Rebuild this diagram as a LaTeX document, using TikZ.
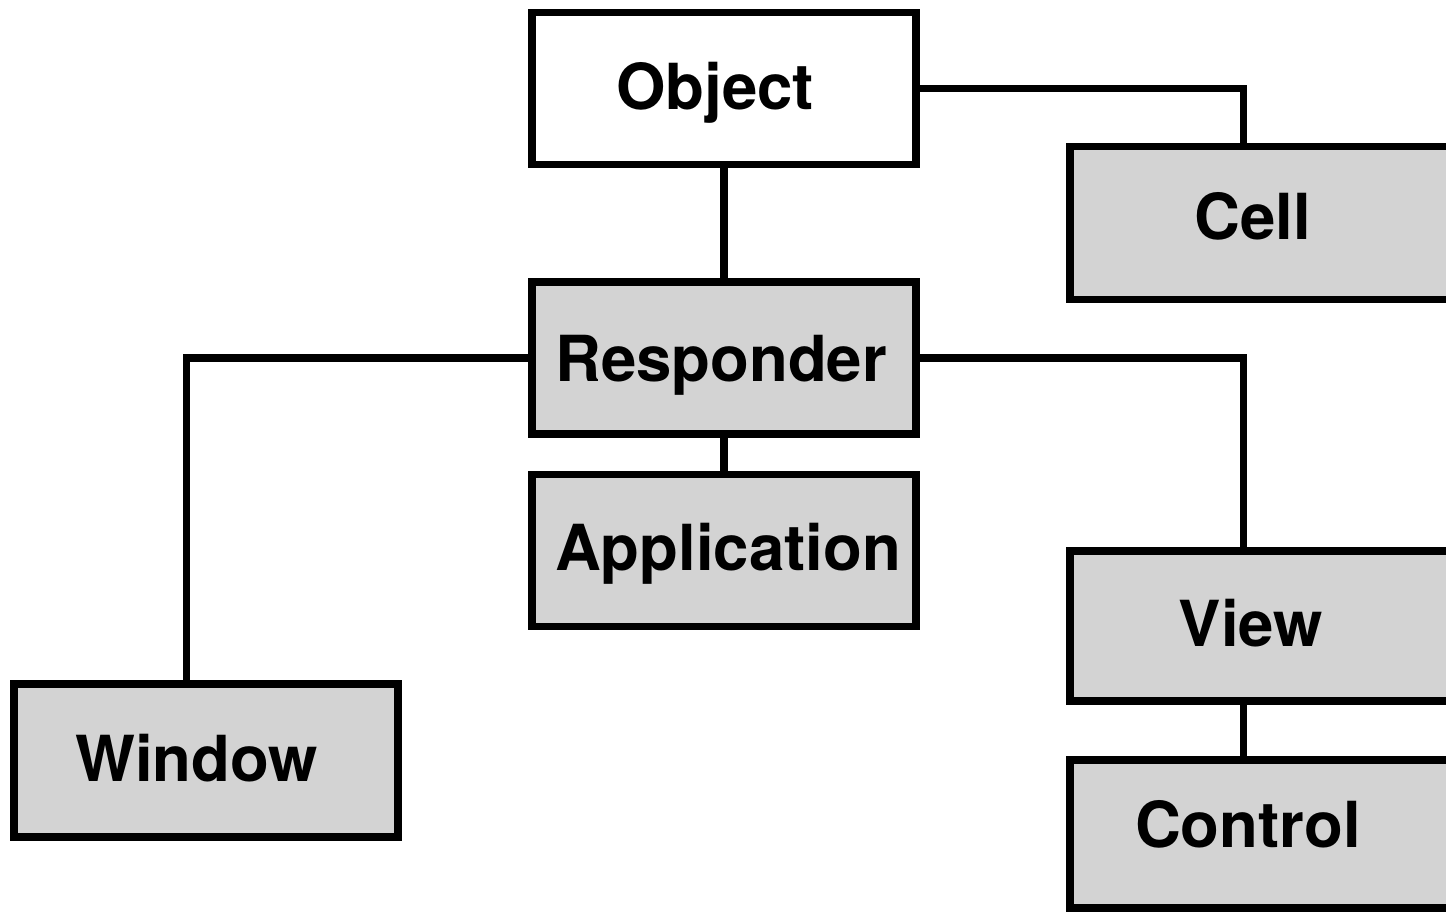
\documentclass[tikz,border=0pt]{standalone}
\usepackage{fontspec}
\setmainfont{TeX Gyre Heros}
\definecolor{boxgray}{RGB}{211,211,211}
\begin{document}
\begin{tikzpicture}[x=1pt,y=-1pt,
  classbox/.style={draw=black,line width=7.5pt,rectangle,inner sep=0pt,
    minimum width=384pt,minimum height=152pt},
  abstract/.style={classbox,fill=white},
  concrete/.style={classbox,fill=boxgray},
  classname/.style={inner sep=0pt,text height=46pt,text depth=0pt,
    font=\fontsize{63.5}{70}\selectfont\bfseries},
  link/.style={line width=7.5pt}]
\useasboundingbox (0,0) rectangle (1446,914);
\clip (0,0) rectangle (1446,914);

% class boxes
\node[abstract] (obj)  at (724,88.5) {};
\node[concrete] (resp) at (724,358) {};
\node[concrete] (app)  at (724,550.5) {};
\node[concrete,minimum height=153pt] (win) at (205.75,760.5) {};
\node[concrete,minimum height=153pt] (cell) at (1262,223) {};
\node[concrete,minimum height=150pt] (view) at (1262,626) {};
\node[concrete,minimum height=148pt] (ctrl) at (1262,834) {};

% class names
\node[classname] (objname)  at ([xshift=-9pt,yshift=2pt]obj.center) {Object};
\node[classname] (respname) at ([xshift=-3pt]resp.center) {Responder};
\node[classname] (appname)  at ([xshift=4pt,yshift=3.5pt]app.center) {Application};
\node[classname] (winname)  at ([xshift=-9pt,yshift=2.5pt]win.center) {Window};
\node[classname] (cellname) at ([xshift=-9pt,yshift=6.5pt]cell.center) {Cell};
\node[classname] (viewname) at ([xshift=-11pt,yshift=3pt]view.center) {View};
\node[classname] (ctrlname) at ([xshift=-14pt,yshift=10pt]ctrl.center) {Control};

% inheritance links
\coordinate (celltop) at ([xshift=177pt]cell.north west);
\coordinate (viewtop) at ([xshift=177pt]view.north west);
\coordinate (viewbot) at ([xshift=177pt]view.south west);
\coordinate (ctrltop) at ([xshift=177pt]ctrl.north west);
\coordinate (wintop)  at ([xshift=176.5pt]win.north west);

\draw[link] (obj.east) -| (celltop);
\draw[link] (obj.south) -- (resp.north);
\draw[link] (resp.west) -| (wintop);
\draw[link] (resp.east) -| (viewtop);
\draw[link] (resp.south) -- (app.north);
\draw[link] (viewbot) -- (ctrltop);
\end{tikzpicture}
\end{document}
